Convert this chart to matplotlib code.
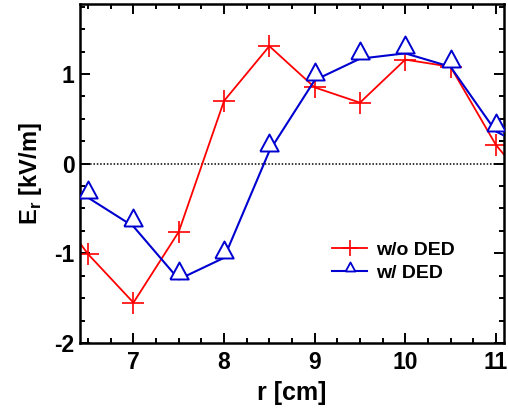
import matplotlib
matplotlib.use("Agg")
import matplotlib.pyplot as plt
from matplotlib.lines import Line2D
from matplotlib.ticker import MultipleLocator

plt.rcParams['font.family'] = ['Liberation Sans', 'DejaVu Sans']
plt.rcParams['font.weight'] = 'bold'
plt.rcParams['mathtext.default'] = 'bf'
plt.rcParams['axes.unicode_minus'] = False

# radial positions [cm]
r = [6.0, 6.5, 7.0, 7.5, 8.0, 8.5, 9.0, 9.5, 10.0, 10.5, 11.0, 11.5]
# radial electric field [kV/m]
er_without = [-0.33, -1.01, -1.55, -0.76, 0.70, 1.31, 0.85, 0.68, 1.16, 1.08, 0.21, -0.40]
er_with = [-0.42, -0.38, -0.70, -1.29, -1.05, 0.14, 0.93, 1.17, 1.23, 1.08, 0.36, 0.10]

labels = ["w/o DED", "w/ DED"]
xticks = [7, 8, 9, 10, 11]
yticks = [-2, -1, 0, 1]

# open triangle whose base sits on the data point
tri = [(-1, 0), (0, 1.85), (1, 0), (-1, 0)]

W, H = 508, 418
fig = plt.figure(figsize=(W / 100, H / 100), dpi=100)
ax = fig.add_axes([80 / W, 1 - 343 / H, 424 / W, 339 / H])

ax.axhline(0, color='black', lw=1.1, ls=(0, (1, 1.2)), zorder=1)
ax.plot(r, er_without, color='#ff0000', lw=1.3, marker='+', ms=16,
        mew=1.2, zorder=2)
ax.plot(r, er_with, color='#0000d0', lw=1.5, marker=tri, ms=24.5,
        mew=1.4, mfc='white', mec='#0000d0', zorder=3)

ax.set_xlim(6.41, 11.09)
ax.set_ylim(-2.0, 1.78)
ax.set_xticks(xticks)
ax.set_yticks(yticks)
ax.xaxis.set_minor_locator(MultipleLocator(0.25))
ax.yaxis.set_minor_locator(MultipleLocator(0.25))
ax.tick_params(which='both', direction='in', top=True, right=True,
               width=1.4, labelsize=16.5)
ax.tick_params(which='major', length=7.5)
ax.tick_params(which='minor', length=3.8)
ax.tick_params(axis='x', pad=6)
ax.tick_params(axis='y', pad=4)
for s in ax.spines.values():
    s.set_linewidth(1.8)

ax.set_xlabel('r [cm]', fontsize=18, fontweight='bold', labelpad=5)
ax.set_ylabel(r'E$_\mathregular{r}$ [kV/m]', fontsize=17, fontweight='bold',
              labelpad=7)

handles = [
    Line2D([], [], color='#ff0000', lw=1.3, marker='+', ms=11, mew=1.2),
    Line2D([], [], color='#0000d0', lw=1.5, marker=tri, ms=13, mew=1.3,
           mfc='white', mec='#0000d0'),
]
ax.legend(handles, labels, loc='center left',
          bbox_to_anchor=((332 - 80) / 424, (343 - 261.5) / 339),
          frameon=False, handlelength=1.8,
          handletextpad=0.45, labelspacing=0.25, borderpad=0,
          borderaxespad=0, prop={'weight': 'bold', 'size': 14})

fig.savefig('out.png', dpi=100)
